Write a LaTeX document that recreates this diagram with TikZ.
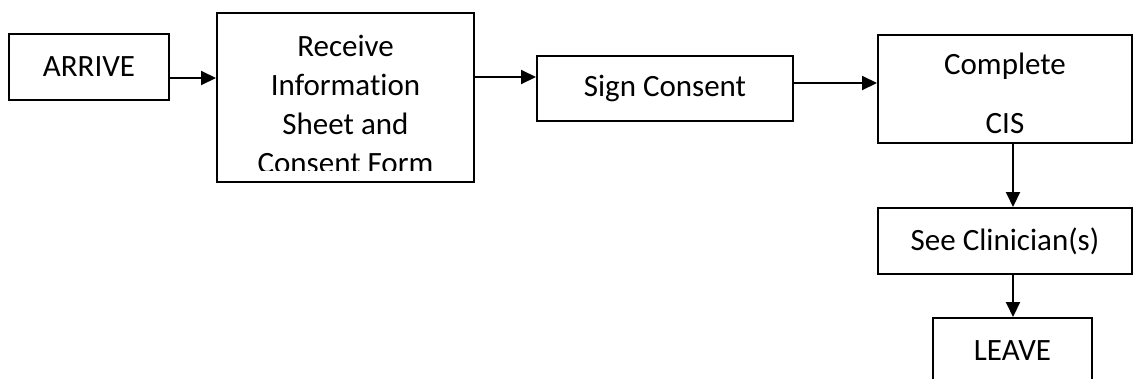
\documentclass[tikz,border=0pt]{standalone}
\usepackage{fontspec}
\setmainfont[Ligatures=NoCommon]{Carlito}
\usetikzlibrary{arrows.meta}
\begin{document}
\begin{tikzpicture}[x=1pt,y=-1pt,
  box/.style={draw, line width=2pt, inner sep=0pt, font=\fontsize{31}{39}\selectfont},
  txt/.style={inner sep=0pt, font=\fontsize{31}{39}\selectfont, align=center},
  arr/.style={line width=2pt, -{Triangle[length=15pt,width=14pt]}}]
\useasboundingbox (0,0) rectangle (1134,378);
\clip (0,0) rectangle (1134,378);
\node[box, minimum width=160pt, minimum height=66pt] (arrive) at (89,67) {ARRIVE};
\node[box, minimum width=257pt, minimum height=169pt] (receive) at (345.5,97.5) {};
\begin{scope}
  \clip (218,14) rectangle (473,170);
  \node[txt, anchor=north] (receivetxt) at (345.5,35) {Receive\\Information\\Sheet and\\Consent Form};
\end{scope}
\node[box, minimum width=256pt, minimum height=65pt] (sign) at (665,88.5) {Sign Consent};
\node[box, minimum width=254pt, minimum height=108pt] (complete) at (1005,89) {};
\node[txt, anchor=north] (completetxt) at (1005,53) {Complete\\[20pt]CIS};
\node[box, minimum width=254pt, minimum height=66pt] (clin) at (1005,241) {See Clinician(s)};
\node[box, minimum width=159pt, minimum height=90pt, anchor=north] (leave) at (1012.5,317) {};
\node[txt, anchor=base] (leavetxt) at (1012.5,360) {LEAVE};
\draw[arr] (arrive.east |- 0,78) -- (receive.west |- 0,78);
\draw[arr] (receive.east |- 0,77) -- (sign.west |- 0,77);
\draw[arr] (sign.east |- 0,83) -- (complete.west |- 0,83);
\draw[arr] (complete.south -| 1013,0) -- (clin.north -| 1013,0);
\draw[arr] (clin.south -| 1013,0) -- (leave.north -| 1013,0);
\end{tikzpicture}
\end{document}
